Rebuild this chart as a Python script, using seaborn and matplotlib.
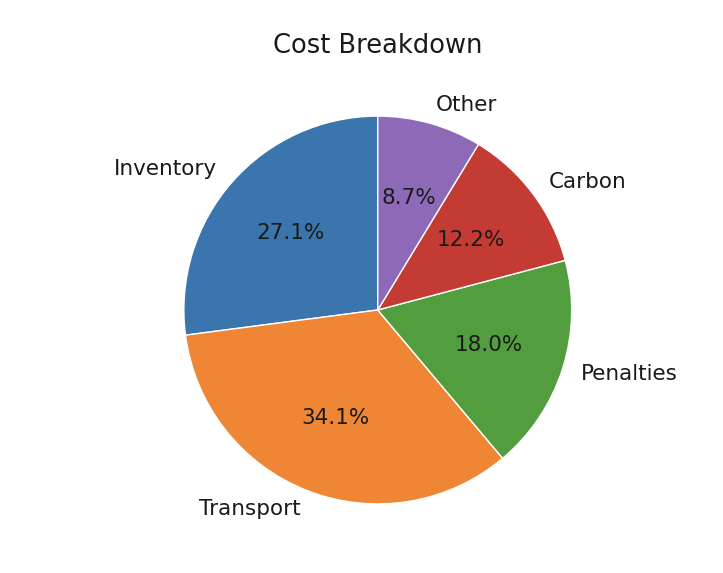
import matplotlib
matplotlib.use("Agg")
import matplotlib.pyplot as plt
import seaborn as sns

# Cost shares (percent)
categories = ["Inventory", "Transport", "Penalties", "Carbon", "Other"]
shares = [27.1, 34.1, 18.0, 12.2, 8.7]
slice_colors = ["#3a75ae", "#ef8636", "#529e3f", "#c43b33", "#8d69b8"]

sns.set_style("white")
palette = sns.color_palette(slice_colors)

fig = plt.figure(figsize=(7.23, 5.73), dpi=100)
ax = fig.add_axes([0.187, 0.036, 0.671, 0.846])

ax.pie(shares, labels=categories, colors=palette, autopct="%1.1f%%",
       startangle=90, counterclock=True,
       textprops={"fontsize": 15.5, "color": "#1a1a1a"})
ax.set_aspect("equal")
ax.set_title("Cost Breakdown", fontsize=18.5, pad=10.5, color="#1a1a1a")

fig.savefig("out.png", dpi=100)
